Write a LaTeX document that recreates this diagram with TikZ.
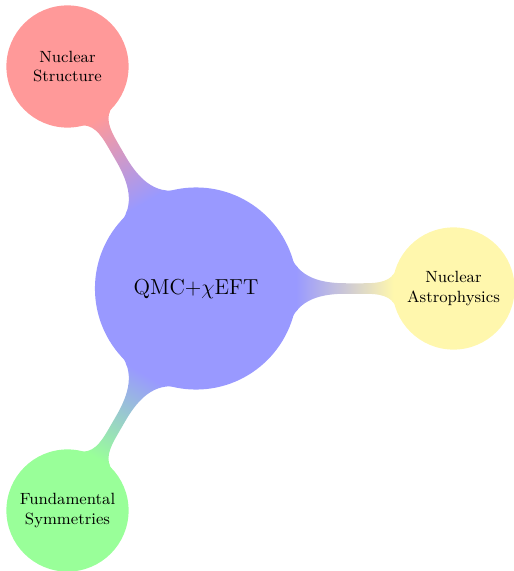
\documentclass[tikz,border=0pt]{standalone}
\usetikzlibrary{mindmap}
\definecolor{paleyellow}{RGB}{255,247,173}
\begin{document}
\begin{tikzpicture}[mindmap, x=0.01946cm, y=-0.01946cm,
  hub/.style={concept, minimum size=3.89cm, text width=3.3cm, font=\large, align=center},
  leaf/.style={concept, minimum size=2.335cm, text width=2.1cm, font=\small, align=center}]
  \useasboundingbox (0,0) rectangle (513,571);
  % central concept and the three topics around it
  \node[hub, concept color=blue!40] (root) at (196,288.5) {QMC+$\chi$EFT};
  \node[leaf, concept color=red!40] (ns) at (67.5,66.5) {Nuclear\\Structure};
  \node[leaf, concept color=paleyellow] (na) at (453.5,288.5) {Nuclear\\Astrophysics};
  \node[leaf, concept color=green!40] (fs) at (67.5,510.5) {Fundamental\\Symmetries};
  % shaded bars joining the topics to the centre
  \path (root) to[circle connection bar switch color=from (blue!40) to (red!40)] (ns);
  \path (root) to[circle connection bar switch color=from (blue!40) to (paleyellow)] (na);
  \path (root) to[circle connection bar switch color=from (blue!40) to (green!40)] (fs);
\end{tikzpicture}
\end{document}
